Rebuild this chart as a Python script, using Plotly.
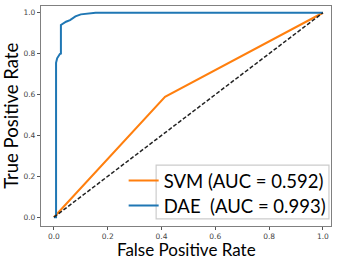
import plotly.graph_objects as go

# ROC data
svm_fpr = [0.0, 0.413, 1.0]
svm_tpr = [0.0, 0.589, 1.0]
dae_fpr = [0.0, 0.008, 0.008, 0.012, 0.022, 0.026, 0.026, 0.045, 0.06, 0.08, 0.10, 0.14, 0.155, 1.0]
dae_tpr = [0.0, 0.0, 0.755, 0.777, 0.798, 0.80, 0.94, 0.956, 0.964, 0.982, 0.992, 0.997, 1.0, 1.0]
diag = [0.0, 1.0]
svm_label = "SVM (AUC = 0.592)"
dae_label = "DAE\u00a0\u00a0(AUC = 0.993)"
ticks = [0.0, 0.2, 0.4, 0.6, 0.8, 1.0]
tick_text = ["0.0", "0.2", "0.4", "0.6", "0.8", "1.0"]

fig = go.Figure()
fig.add_trace(go.Scatter(x=svm_fpr, y=svm_tpr, mode="lines", name=svm_label, legend="legend",
                         line=dict(color="#ff7f0e", width=2)))
fig.add_trace(go.Scatter(x=dae_fpr, y=dae_tpr, mode="lines", name=dae_label, legend="legend2",
                         line=dict(color="#1f77b4", width=2)))
fig.add_trace(go.Scatter(x=diag, y=diag, mode="lines", showlegend=False,
                         line=dict(color="#222222", width=1.5, dash="4px,2px")))

axis_common = dict(showline=True, linecolor="#808080", linewidth=1.3, mirror=True,
                   showgrid=False, zeroline=False, ticks="outside", ticklen=3,
                   tickcolor="#555555", tickvals=ticks, ticktext=tick_text,
                   tickfont=dict(family="DejaVu Sans", size=7.5, color="#444444"))

legend_common = dict(x=0.285, xanchor="left", yanchor="middle",
                     bgcolor="rgba(255,255,255,0)", borderwidth=0,
                     font=dict(family="Lato", size=18.5, color="black"),
                     itemwidth=30)

fig.update_layout(
    width=339, height=259,
    margin=dict(l=41, r=8, t=6, b=33, autoexpand=False),
    paper_bgcolor="white", plot_bgcolor="white",
    xaxis=dict(range=[-0.048, 1.03], **axis_common),
    yaxis=dict(range=[-0.043, 1.033], **axis_common),
    legend=dict(y=0.2045, **legend_common),
    legend2=dict(y=0.0909, **legend_common),
    annotations=[
        dict(text="False Positive Rate", x=0.5, y=-0.107, xref="paper", yref="paper",
             xanchor="center", yanchor="middle", showarrow=False,
             font=dict(family="Lato", size=17, color="black")),
        dict(text="True Positive Rate", x=-0.104, y=0.5, xref="paper", yref="paper",
             xanchor="center", yanchor="middle", showarrow=False, textangle=-90,
             font=dict(family="Lato", size=18.5, color="black")),
    ],
    shapes=[
        dict(type="rect", xref="paper", yref="paper", x0=0.397, x1=0.993, y0=0.032, y1=0.277,
             line=dict(color="#cccccc", width=1.2), fillcolor="rgba(255,255,255,0.85)",
             layer="below"),
    ],
    showlegend=True,
)

fig.write_html("out.html", config={"displayModeBar": False},
               post_script="document.body.style.margin='0px';document.body.style.padding='0px';")
